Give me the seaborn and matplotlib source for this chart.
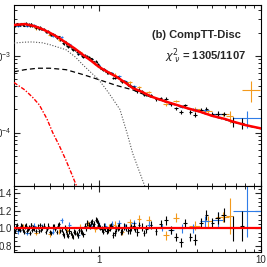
import numpy as np
import pandas as pd
import seaborn as sns
import matplotlib
matplotlib.use("Agg")
import matplotlib.pyplot as plt
from matplotlib.ticker import LogLocator, NullFormatter, MultipleLocator

# model curves (keV, flux)
model_e = [0.30, 0.35, 0.40, 0.45, 0.50, 0.56, 0.63, 0.71, 0.80, 0.90, 1.00, 1.13, 1.29,
           1.45, 1.62, 1.84, 2.10, 2.59, 3.00, 3.50, 4.20, 5.00, 6.00, 6.70, 8.00, 10.0]
model_total = [2.53e-3, 2.60e-3, 2.45e-3, 2.23e-3, 2.00e-3, 1.75e-3, 1.48e-3, 1.25e-3, 1.03e-3,
               8.6e-4, 7.2e-4, 6.2e-4, 5.3e-4, 4.5e-4, 3.8e-4, 3.4e-4, 2.95e-4, 2.53e-4, 2.3e-4,
               2.08e-4, 1.87e-4, 1.65e-4, 1.5e-4, 1.39e-4, 1.25e-4, 1.13e-4]
comptt_e = [0.30, 0.35, 0.42, 0.50, 0.63, 0.80, 1.00, 1.29, 1.62, 2.00, 2.59, 3.50, 4.20, 5.00,
            6.70, 8.00, 10.0]
comptt_flux = [6.2e-4, 6.6e-4, 6.9e-4, 6.9e-4, 6.6e-4, 5.7e-4, 4.9e-4, 4.1e-4, 3.6e-4, 3.0e-4,
               2.5e-4, 2.06e-4, 1.85e-4, 1.64e-4, 1.38e-4, 1.24e-4, 1.12e-4]
disc_e = [0.30, 0.35, 0.39, 0.45, 0.50, 0.63, 0.72, 0.80, 0.90, 1.00, 1.15, 1.35, 1.49, 1.62,
          1.92, 2.10]
disc_flux = [1.47e-3, 1.51e-3, 1.52e-3, 1.48e-3, 1.40e-3, 1.2e-3, 9.6e-4, 7.6e-4, 6.0e-4, 4.9e-4,
             3.3e-4, 2.0e-4, 1.0e-4, 5.3e-5, 2.0e-5, 1.1e-5]
soft_e = [0.30, 0.35, 0.39, 0.43, 0.48, 0.52, 0.57, 0.625, 0.68, 0.73, 0.78]
soft_flux = [4.5e-4, 3.6e-4, 2.9e-4, 2.3e-4, 1.5e-4, 1.0e-4, 6.8e-5, 4.45e-5, 2.9e-5, 2.0e-5,
             1.3e-5]

# black data set
blk_e = [0.31, 0.32, 0.33, 0.34, 0.35, 0.36, 0.37, 0.38, 0.39, 0.40, 0.42, 0.43, 0.45, 0.46,
         0.48, 0.50, 0.52, 0.54, 0.56, 0.58, 0.60, 0.62, 0.64, 0.66, 0.68, 0.70, 0.73, 0.76,
         0.79, 0.82, 0.85, 0.88, 0.91, 0.94, 0.97, 1.00, 1.04, 1.08, 1.12, 1.17, 1.22, 1.28,
         1.34, 1.40, 1.47, 1.55, 1.64, 1.73, 1.84, 1.96, 2.10, 2.25, 2.40, 2.60, 2.80, 3.00,
         3.20, 3.40, 3.65, 3.90, 4.25, 4.60, 5.00, 5.40, 5.90, 6.70, 7.60]
blk_xerr = [0.005] * 20 + [0.01] * 15 + [0.02] * 10 + [0.04] * 8 + [0.08] * 6 + [0.12] * 4 + [0.2] * 4
blk_flux = [2.58e-3, 2.54e-3, 2.66e-3, 2.54e-3, 2.65e-3, 2.52e-3, 2.61e-3, 2.63e-3, 2.45e-3,
            2.45e-3, 2.41e-3, 2.25e-3, 2.25e-3, 2.25e-3, 2.07e-3, 1.92e-3, 1.95e-3, 1.81e-3,
            1.80e-3, 1.61e-3, 1.49e-3, 1.54e-3, 1.35e-3, 1.35e-3, 1.23e-3, 1.23e-3, 1.13e-3,
            1.11e-3, 1.01e-3, 1.03e-3, 1.01e-3, 9.1e-4, 9.1e-4, 8.4e-4, 8.3e-4, 7.4e-4, 6.8e-4,
            6.7e-4, 6.1e-4, 6.0e-4, 5.15e-4, 5.3e-4, 5.15e-4, 4.66e-4, 4.55e-4, 4.1e-4, 3.9e-4,
            3.45e-4, 3.47e-4, 3.12e-4, 3.07e-4, 2.72e-4, 2.78e-4, 2.76e-4, 2.35e-4, 2.07e-4,
            1.85e-4, 2.26e-4, 1.85e-4, 1.71e-4, 1.98e-4, 2.05e-4, 1.75e-4, 1.77e-4, 1.75e-4,
            1.39e-4, 1.34e-4]
blk_ratio = [1.01, 0.99, 1.03, 0.98, 1.02, 0.97, 1.01, 1.03, 0.98, 1.00, 1.02, 0.97, 1.01, 1.03,
             0.99, 0.96, 1.02, 0.99, 1.03, 0.97, 0.94, 1.01, 0.93, 0.97, 0.92, 0.96, 0.94, 0.98,
             0.95, 1.03, 1.06, 1.02, 1.08, 1.05, 1.09, 1.03, 0.99, 1.02, 0.97, 1.01, 0.92, 0.99,
             1.02, 0.97, 1.01, 0.98, 1.03, 0.96, 1.02, 0.99, 1.04, 0.97, 1.05, 1.09, 0.98, 0.90,
             0.84, 1.06, 0.90, 0.87, 1.06, 1.15, 1.06, 1.12, 1.15, 1.00, 1.03]
blk_rerr = [0.025] * 20 + [0.03] * 15 + [0.035] * 10 + [0.045] * 8 + [0.05] * 6 + [0.06] * 4 + [0.07, 0.08, 0.14, 0.17]

# second, interleaved black set (fine bins, 0.3-2 keV)
blk2_e = [0.305, 0.315, 0.325, 0.335, 0.345, 0.355, 0.365, 0.375, 0.385, 0.395, 0.41, 0.435,
          0.44, 0.47, 0.49, 0.51, 0.53, 0.55, 0.57, 0.59, 0.61, 0.63, 0.65, 0.67, 0.69, 0.715,
          0.745, 0.775, 0.805, 0.835, 0.865, 0.895, 0.925, 0.955, 0.985, 1.02, 1.06, 1.10,
          1.145, 1.195, 1.25, 1.31, 1.37, 1.435, 1.51, 1.59, 1.68, 1.78, 1.90]
blk2_xerr = [0.005] * 25 + [0.012] * 13 + [0.025] * 11
blk2_flux = [2.46e-3, 2.66e-3, 2.52e-3, 2.64e-3, 2.49e-3, 2.68e-3, 2.56e-3, 2.44e-3, 2.63e-3,
             2.50e-3, 2.33e-3, 2.38e-3, 2.22e-3, 2.04e-3, 2.11e-3, 1.86e-3, 1.91e-3, 1.72e-3,
             1.79e-3, 1.59e-3, 1.43e-3, 1.44e-3, 1.29e-3, 1.30e-3, 1.18e-3, 1.18e-3, 1.07e-3,
             1.06e-3, 9.6e-4, 9.75e-4, 9.57e-4, 9.26e-4, 8.45e-4, 8.58e-4, 7.84e-4, 7.12e-4,
             6.48e-4, 6.45e-4, 5.98e-4, 5.92e-4, 5.21e-4, 5.25e-4, 4.7e-4, 4.74e-4, 4.22e-4,
             4.04e-4, 3.66e-4, 3.64e-4, 3.09e-4]
blk2_ratio = [0.97, 1.04, 0.98, 1.02, 0.96, 1.03, 0.99, 0.95, 1.04, 1.01, 0.97, 1.04, 0.98,
              0.96, 1.03, 0.95, 1.02, 0.96, 1.05, 0.98, 0.92, 0.97, 0.91, 0.95, 0.90, 0.95,
              0.92, 0.97, 0.93, 1.00, 1.04, 1.07, 1.03, 1.10, 1.06, 1.01, 0.96, 1.00, 0.98,
              1.03, 0.95, 1.01, 0.96, 1.02, 0.97, 1.01, 0.99, 1.04, 0.95]
blk2_rerr = [0.025] * 25 + [0.03] * 13 + [0.035] * 11

# blue data set
blu_e = [0.32, 0.36, 0.40, 0.45, 0.52, 0.59, 0.66, 0.75, 0.90, 1.00, 1.10, 1.20, 1.33, 1.45,
         1.64, 2.05, 2.45, 2.78, 3.25, 3.8, 4.5, 5.4, 8.2]
blu_xlo = [0.01, 0.01, 0.01, 0.01, 0.01, 0.01, 0.015, 0.015, 0.02, 0.02, 0.03, 0.03, 0.04, 0.04,
           0.05, 0.08, 0.1, 0.12, 0.15, 0.2, 0.3, 0.4, 1.5]
blu_xhi = [0.01, 0.01, 0.01, 0.01, 0.01, 0.01, 0.015, 0.015, 0.02, 0.02, 0.03, 0.03, 0.04, 0.04,
           0.05, 0.08, 0.1, 0.12, 0.15, 0.2, 0.3, 0.4, 1.8]
blu_flux = [2.49e-3, 2.47e-3, 2.52e-3, 2.27e-3, 1.83e-3, 1.77e-3, 1.45e-3, 1.06e-3, 9.0e-4,
            7.5e-4, 6.6e-4, 6.0e-4, 5.4e-4, 4.7e-4, 4.0e-4, 3.1e-4, 2.65e-4, 2.36e-4, 2.18e-4,
            2.0e-4, 1.94e-4, 1.74e-4, 1.55e-4]
blu_ratio = [0.97, 0.95, 1.03, 1.02, 0.96, 1.09, 1.04, 0.92, 1.05, 1.04, 1.03, 1.05, 1.06, 1.02,
             1.06, 1.04, 1.01, 0.98, 1.00, 1.00, 1.08, 1.10, 1.20]
blu_rerr = [0.03] * 14 + [0.04, 0.04, 0.04, 0.04, 0.05, 0.05, 0.06, 0.08, 0.3]

# orange data set
org_e = [0.34, 0.41, 0.50, 0.57, 0.64, 0.77, 0.86, 0.95, 1.15, 1.25, 1.39, 1.55, 1.77, 2.03,
         2.6, 3.0, 3.9, 4.7, 5.8, 6.4, 8.7]
org_xerr = [0.01, 0.01, 0.01, 0.01, 0.015, 0.02, 0.02, 0.02, 0.03, 0.03, 0.04, 0.05, 0.06, 0.08,
            0.1, 0.12, 0.3, 0.3, 0.5, 0.3, 1.1]
org_flux = [2.64e-3, 2.28e-3, 1.86e-3, 1.63e-3, 1.42e-3, 1.13e-3, 9.8e-4, 7.8e-4, 6.15e-4,
            5.7e-4, 4.65e-4, 4.5e-4, 3.94e-4, 3.36e-4, 2.33e-4, 2.58e-4, 2.03e-4, 1.89e-4,
            1.73e-4, 1.63e-4, 3.6e-4]
org_ratio = [1.02, 0.95, 0.93, 0.96, 0.98, 1.02, 1.05, 0.99, 1.01, 1.04, 0.96, 1.07, 1.11, 1.10,
             0.92, 1.12, 1.03, 1.08, 1.13, 1.14, 3.0]
org_rerr = [0.03] * 8 + [0.04] * 6 + [0.05, 0.05, 0.05, 0.06, 0.06, 0.2, 0.9]

BLUE = "#2f7de8"
ORANGE = "#f39a1c"

sns.set_theme(style="ticks")
plt.rcParams["font.family"] = ["Liberation Sans", "DejaVu Sans"]
plt.rcParams.update({
    "xtick.direction": "in", "ytick.direction": "in",
    "xtick.top": True, "ytick.right": True,
    "xtick.major.size": 4.5, "ytick.major.size": 4.5,
    "xtick.minor.size": 2.5, "ytick.minor.size": 2.5,
    "xtick.major.width": 0.8, "ytick.major.width": 0.8,
    "xtick.minor.width": 0.7, "ytick.minor.width": 0.7,
    "axes.linewidth": 0.8, "axes.edgecolor": "black",
    "xtick.labelsize": 7, "ytick.labelsize": 7,
    "xtick.major.pad": 2, "ytick.major.pad": 1.5,
})

fig = plt.figure(figsize=(2.67, 2.67), dpi=100)
ax1 = fig.add_axes([0.052, 0.303, 0.926, 0.678])
ax2 = fig.add_axes([0.052, 0.056, 0.926, 0.247], sharex=ax1)


def draw_set(ax, e, xerr, y, yerr, color):
    ax.errorbar(e, y, xerr=xerr, yerr=yerr, fmt="none", ecolor=color,
                elinewidth=0.8, capsize=0, zorder=2)


def top_err(flux, rerr, ratio):
    return np.array(flux) * np.array(rerr) / np.array(ratio)


# top panel
draw_set(ax1, org_e, org_xerr, org_flux, top_err(org_flux, org_rerr, org_ratio), ORANGE)
draw_set(ax1, blu_e, [blu_xlo, blu_xhi], blu_flux, top_err(blu_flux, blu_rerr, blu_ratio), BLUE)
draw_set(ax1, blk_e, blk_xerr, blk_flux, top_err(blk_flux, blk_rerr, blk_ratio), "black")
draw_set(ax1, blk2_e, blk2_xerr, blk2_flux, top_err(blk2_flux, blk2_rerr, blk2_ratio), "black")

curves = [
    (disc_e, disc_flux, "#555555", (0, (1, 1.5)), 0.8),
    (comptt_e, comptt_flux, "black", (0, (4, 2.5)), 0.9),
    (soft_e, soft_flux, "red", (0, (3, 1.2, 1, 1.2)), 1.0),
    (model_e, model_total, "red", "-", 1.8),
]
for e, f, col, ls, lw in curves:
    df = pd.DataFrame({"E": e, "flux": f})
    sns.lineplot(data=df, x="E", y="flux", ax=ax1, color=col, linestyle=ls,
                 linewidth=lw, estimator=None, sort=True, zorder=3)

ax1.set_xscale("log")
ax1.set_yscale("log")
ax1.set_xlim(0.30, 10)
ax1.set_ylim(2.0e-5, 4.6e-3)
ax1.set_xlabel("")
ax1.set_ylabel("")
ax1.yaxis.set_minor_locator(LogLocator(base=10, subs=np.arange(2, 10)))
ax1.yaxis.set_minor_formatter(NullFormatter())
ax1.tick_params(axis="x", which="both", labelbottom=False)

ax1.text(0.74, 0.835, "(b) CompTT-Disc", transform=ax1.transAxes, ha="center", va="center",
         fontsize=8, fontweight="bold")
ax1.text(0.775, 0.715, r"$\chi^2_{\ \nu}$ = 1305/1107", transform=ax1.transAxes, ha="center",
         va="center", fontsize=8, fontweight="bold")

# ratio panel
draw_set(ax2, org_e, org_xerr, org_ratio, org_rerr, ORANGE)
draw_set(ax2, blu_e, [blu_xlo, blu_xhi], blu_ratio, blu_rerr, BLUE)
draw_set(ax2, blk_e, blk_xerr, blk_ratio, blk_rerr, "black")
draw_set(ax2, blk2_e, blk2_xerr, blk2_ratio, blk2_rerr, "black")
ax2.axhline(1.0, color="red", linewidth=1.6, zorder=3)

ax2.set_ylim(0.73, 1.48)
ax2.yaxis.set_major_locator(MultipleLocator(0.2))
ax2.yaxis.set_minor_locator(MultipleLocator(0.05))
ax2.xaxis.set_minor_locator(LogLocator(base=10, subs=np.arange(2, 10)))
ax2.xaxis.set_minor_formatter(NullFormatter())
ax2.set_xticks([1, 10], labels=["1", "10"])
ax2.set_xlim(0.30, 10)
ax2.set_xlabel("")
ax2.set_ylabel("")

fig.savefig("out.png", dpi=100)
